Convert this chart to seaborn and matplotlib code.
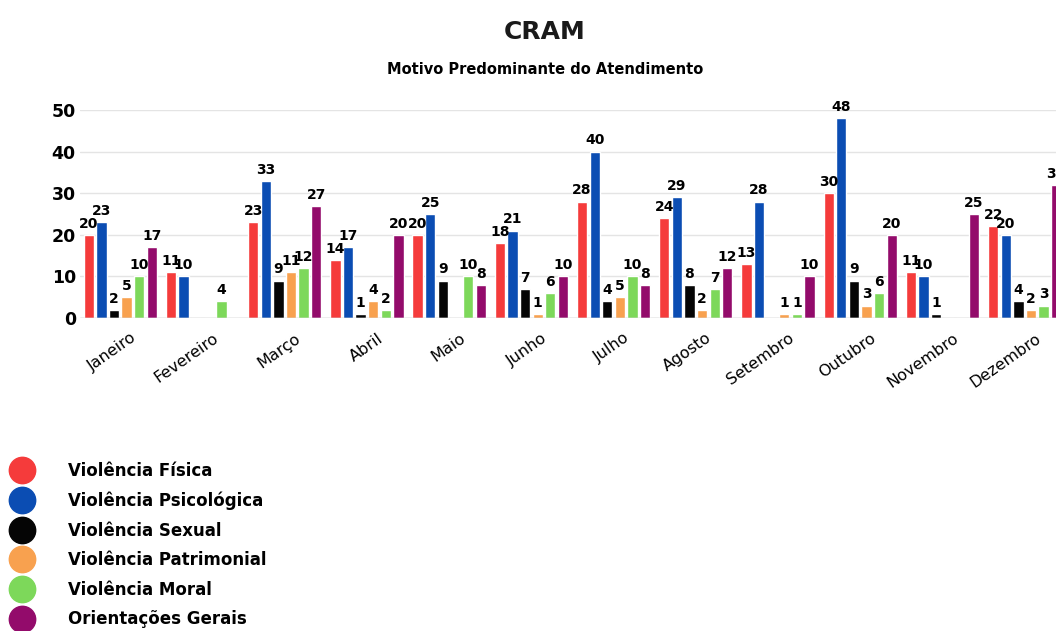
import numpy as np
import pandas as pd
import matplotlib.pyplot as plt
import matplotlib.transforms as mtransforms
from matplotlib.lines import Line2D
import seaborn as sns

meses = ['Janeiro', 'Fevereiro', 'Março', 'Abril', 'Maio', 'Junho', 'Julho',
         'Agosto', 'Setembro', 'Outubro', 'Novembro', 'Dezembro']
motivos = ['Violência Física', 'Violência Psicológica', 'Violência Sexual',
           'Violência Patrimonial', 'Violência Moral', 'Orientações Gerais']

fisica      = [20, 11, 23, 14, 20, 18, 28, 24, 13, 30, 11, 22]
psicologica = [23, 10, 33, 17, 25, 21, 40, 29, 28, 48, 10, 20]
sexual      = [2, 0, 9, 1, 9, 7, 4, 8, 0, 9, 1, 4]
patrimonial = [5, 0, 11, 4, 0, 1, 5, 2, 1, 3, 0, 2]
moral       = [10, 4, 12, 2, 10, 6, 10, 7, 1, 6, 0, 3]
orientacoes = [17, 0, 27, 20, 8, 10, 8, 12, 10, 20, 25, 32]

cores = ['#f53b3b', '#0b4db3', '#050505', '#f8a14f', '#7dd85a', '#930b6b']

series = [fisica, psicologica, sexual, patrimonial, moral, orientacoes]
df = pd.DataFrame({
    'Mes': meses * len(motivos),
    'Motivo': np.repeat(motivos, len(meses)),
    'Valor': np.concatenate(series),
})

sns.set_style('white')
plt.rcParams['font.family'] = ['DejaVu Sans']

fig = plt.figure(figsize=(10.56, 6.31), dpi=100)
ax = fig.add_axes([80 / 1056, 313 / 631, 994 / 1056, 208 / 631])

sns.barplot(data=df, x='Mes', y='Valor', hue='Motivo', order=meses,
            hue_order=motivos, palette=cores, width=0.92, gap=0.18,
            legend=False, ax=ax, saturation=1)

for cont in ax.containers:
    labels = ['' if v == 0 else f'{int(v)}' for v in cont.datavalues]
    ax.bar_label(cont, labels=labels, padding=3, fontsize=10,
                 fontweight='bold', color='black')

ax.set_xlim(-0.49, 11.6)
ax.set_ylim(0, 50)
ax.set_yticks([0, 10, 20, 30, 40, 50])
ax.yaxis.grid(True, color='#e4e4e4', linewidth=1)
ax.set_axisbelow(True)
ax.axhline(0, color='#bdbdbd', linewidth=1)
for s in ax.spines.values():
    s.set_visible(False)
ax.set_xlabel('')
ax.set_ylabel('')
ax.tick_params(axis='y', labelsize=12.5, pad=3, length=0, labelcolor='black')
ax.tick_params(axis='x', labelsize=11.5, length=0, pad=9, labelcolor='black')
shift = mtransforms.ScaledTranslation(10 / 100, 0, fig.dpi_scale_trans)
for t in ax.get_xticklabels():
    t.set_rotation(35)
    t.set_ha('right')
    t.set_rotation_mode('anchor')
    t.set_transform(t.get_transform() + shift)
for t in ax.get_yticklabels():
    t.set_fontweight('semibold')

fig.text(545 / 1056, 1 - 32 / 631, 'CRAM', ha='center', va='center',
         fontsize=18, fontweight='bold', color='#1a1a1a')
fig.text(545 / 1056, 1 - 70 / 631, 'Motivo Predominante do Atendimento',
         ha='center', va='center', fontsize=10.5, fontweight='bold',
         color='black')

handles = [Line2D([], [], marker='o', linestyle='', markersize=19,
                  markerfacecolor=c, markeredgecolor=c) for c in cores]
fig.legend(handles, motivos, loc='upper left', bbox_to_anchor=(-0.002, 1 - 450 / 631),
           frameon=False, handlelength=1.5, handletextpad=2.0,
           labelspacing=0.7, borderaxespad=0.3, labelcolor='black',
           prop={'weight': 'bold', 'size': 12})

fig.savefig('out.png', dpi=100)
